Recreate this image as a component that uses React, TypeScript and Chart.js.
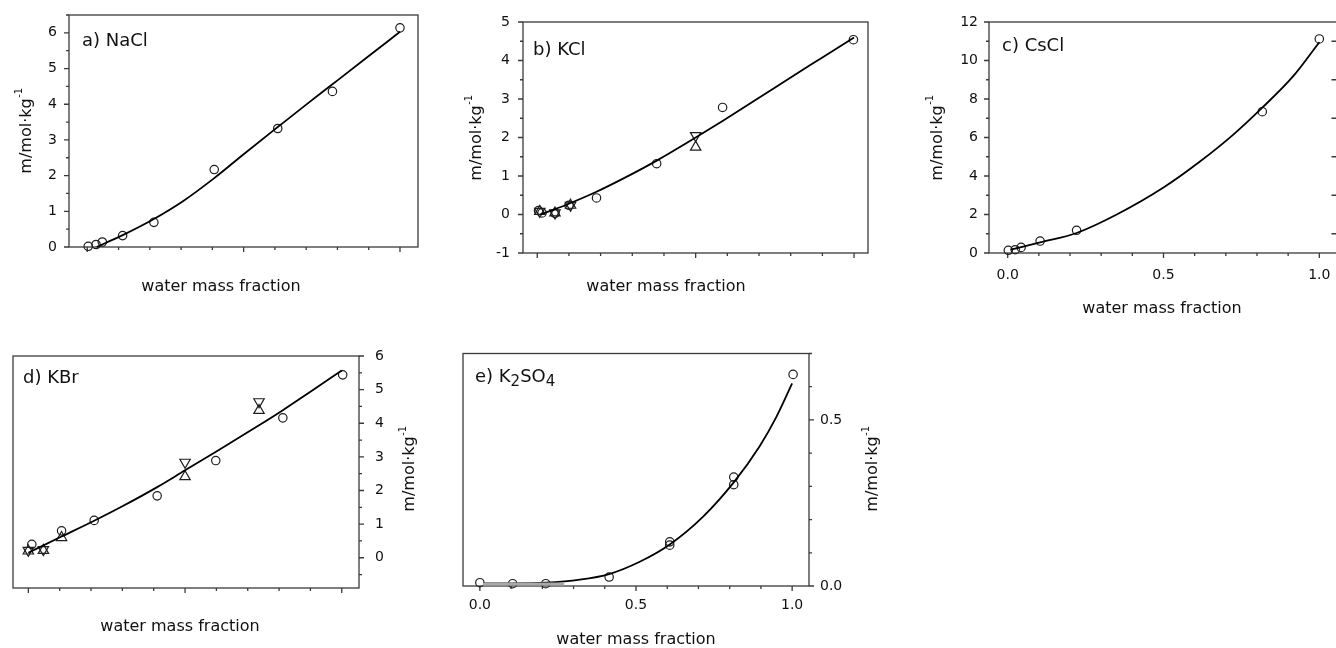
import { useEffect, useRef } from "react";
import { Chart, registerables } from "chart.js";

Chart.register(...registerables);

const W = 1336;
const H = 648;
const CW = 1420; // canvas width (wider than page so panel c can run off the edge)
const FONT = '"DejaVu Sans", "Liberation Sans", sans-serif';
const INK = "#111111";
const AXIS = "#3a3a3a";
const MARK = "#1e1e1e";

const X_TITLE = "water mass fraction";
const Y_MAIN = "m/mol·kg";
const Y_SUP = "-1";

// ---------- a) NaCl ----------
const naclX = [0.003, 0.028, 0.048, 0.113, 0.213, 0.406, 0.609, 0.784, 1.0];
const naclY = [0.02, 0.07, 0.14, 0.32, 0.69, 2.17, 3.32, 4.36, 6.14];
const naclFitX = [0.03, 0.06, 0.115, 0.21, 0.307, 0.406, 0.5, 0.609, 0.7, 0.787, 0.893, 1.0];
const naclFitY = [0.0, 0.12, 0.34, 0.77, 1.29, 1.93, 2.6, 3.36, 3.99, 4.58, 5.3, 6.03];

// ---------- b) KCl ----------
const kclX = [0.004, 0.015, 0.056, 0.1, 0.187, 0.377, 0.585, 0.998];
const kclY = [0.1, 0.04, 0.03, 0.24, 0.43, 1.32, 2.78, 4.54];
const kclTriX = [0.008, 0.056, 0.105, 0.5];
const kclTriY = [0.08, 0.04, 0.24, 1.75];
const kclInvX = [0.008, 0.056, 0.105, 0.5];
const kclInvY = [0.08, 0.04, 0.24, 2.05];
const kclFitX = [0.01, 0.05, 0.1, 0.187, 0.28, 0.377, 0.5, 0.585, 0.7, 0.8, 0.9, 1.0];
const kclFitY = [0.0, 0.12, 0.28, 0.59, 0.97, 1.4, 2.0, 2.43, 3.03, 3.56, 4.08, 4.6];

// ---------- c) CsCl ----------
const csclX = [0.002, 0.024, 0.043, 0.104, 0.221, 0.817, 1.0];
const csclY = [0.14, 0.17, 0.29, 0.62, 1.18, 7.34, 11.12];
const csclFitX = [0.01, 0.05, 0.104, 0.221, 0.35, 0.5, 0.617, 0.724, 0.817, 0.917, 1.0];
const csclFitY = [0.17, 0.33, 0.55, 1.04, 2.0, 3.4, 4.75, 6.15, 7.55, 9.2, 10.95];

// ---------- d) KBr ----------
const kbrX = [0.011, 0.106, 0.21, 0.411, 0.598, 0.812, 1.003];
const kbrY = [0.4, 0.8, 1.11, 1.84, 2.89, 4.16, 5.44];
const kbrTriX = [0.0, 0.048, 0.106, 0.5, 0.736];
const kbrTriY = [0.2, 0.22, 0.6, 2.41, 4.38];
const kbrInvX = [0.0, 0.048, 0.5, 0.736];
const kbrInvY = [0.22, 0.24, 2.84, 4.64];
const kbrFitX = [0.0, 0.106, 0.21, 0.3, 0.411, 0.5, 0.6, 0.736, 0.812, 0.9, 1.0];
const kbrFitY = [0.15, 0.63, 1.1, 1.53, 2.1, 2.6, 3.16, 3.94, 4.39, 4.94, 5.57];

// ---------- e) K2SO4 ----------
const k2so4X = [0.0, 0.105, 0.211, 0.414, 0.608, 0.608, 0.813, 0.813, 1.003];
const k2so4Y = [0.01, 0.007, 0.007, 0.027, 0.133, 0.123, 0.328, 0.305, 0.637];
const k2so4FitX = [0.01, 0.1, 0.211, 0.32, 0.414, 0.512, 0.608, 0.715, 0.813, 0.896, 0.95, 1.0];
const k2so4FitY = [0.008, 0.008, 0.01, 0.019, 0.036, 0.073, 0.125, 0.209, 0.312, 0.421, 0.51, 0.61];
const k2so4BandX = [0.01, 0.27];
const k2so4BandY = [0.006, 0.006];

type XY = [number[], number[]];
interface Part { t: string; size: number; dy: number }
interface Panel {
  key: string;
  plot: { l: number; r: number; t: number; b: number };
  yPos: "left" | "right";
  xMin: number; xMax: number; yMin: number; yMax: number;
  yStep: number; yMajor: number; yLabelStep: number; yDecimals: number;
  xLabels: boolean;
  yTick: number; xTick: number;
  circles: XY; tris?: XY; invs?: XY; fit: XY; band?: XY;
  label: Part[]; labelPos: [number, number];
  xTitle: [number, number]; yTitle: [number, number];
  mirror?: boolean;
}

const panels: Panel[] = [
  {
    key: "a", plot: { l: 69, r: 418, t: 15, b: 247 }, yPos: "left",
    xMin: -0.0585, xMax: 1.0576, yMin: 0, yMax: 6.5,
    yStep: 0.5, yMajor: 1, yLabelStep: 1, yDecimals: 0, xLabels: false,
    yTick: 12, xTick: 12,
    circles: [naclX, naclY], fit: [naclFitX, naclFitY],
    label: [{ t: "a) NaCl", size: 18, dy: 0 }], labelPos: [82, 41],
    xTitle: [221, 287], yTitle: [26.5, 131],
  },
  {
    key: "b", plot: { l: 523, r: 868, t: 22, b: 253 }, yPos: "left",
    xMin: -0.045, xMax: 1.044, yMin: -1, yMax: 5,
    yStep: 0.5, yMajor: 1, yLabelStep: 1, yDecimals: 0, xLabels: false,
    yTick: 13, xTick: 12,
    circles: [kclX, kclY], tris: [kclTriX, kclTriY], invs: [kclInvX, kclInvY], fit: [kclFitX, kclFitY],
    label: [{ t: "b) KCl", size: 18, dy: 0 }], labelPos: [533, 50],
    xTitle: [666, 287], yTitle: [476.7, 138],
  },
  {
    key: "c", plot: { l: 989, r: 1338, t: 22, b: 253 }, yPos: "left",
    xMin: -0.06, xMax: 1.06, yMin: 0, yMax: 12,
    yStep: 1, yMajor: 2, yLabelStep: 2, yDecimals: 0, xLabels: true,
    yTick: 11, xTick: 14,
    circles: [csclX, csclY], fit: [csclFitX, csclFitY],
    label: [{ t: "c) CsCl", size: 18, dy: 0 }], labelPos: [1002, 46],
    xTitle: [1162, 309], yTitle: [937.5, 138], mirror: true,
  },
  {
    key: "d", plot: { l: 13, r: 359, t: 356, b: 588 }, yPos: "right",
    xMin: -0.049, xMax: 1.055, yMin: -0.9, yMax: 6,
    yStep: 0.5, yMajor: 1, yLabelStep: 1, yDecimals: 0, xLabels: false,
    yTick: 16, xTick: 12,
    circles: [kbrX, kbrY], tris: [kbrTriX, kbrTriY], invs: [kbrInvX, kbrInvY], fit: [kbrFitX, kbrFitY],
    label: [{ t: "d) KBr", size: 18, dy: 0 }], labelPos: [23, 378],
    xTitle: [180, 627], yTitle: [410, 469],
  },
  {
    key: "e", plot: { l: 463, r: 809, t: 353.5, b: 586 }, yPos: "right",
    xMin: -0.054, xMax: 1.054, yMin: 0, yMax: 0.7,
    yStep: 0.1, yMajor: 0.5, yLabelStep: 0.5, yDecimals: 1, xLabels: true,
    yTick: 11, xTick: 11,
    circles: [k2so4X, k2so4Y], fit: [k2so4FitX, k2so4FitY], band: [k2so4BandX, k2so4BandY],
    label: [
      { t: "e) K", size: 18, dy: 0 },
      { t: "2", size: 15, dy: 5 },
      { t: "SO", size: 18, dy: 0 },
      { t: "4", size: 15, dy: 5 },
    ],
    labelPos: [475, 377],
    xTitle: [636, 640], yTitle: [873, 469],
  },
];

const isMult = (v: number, step: number) => Math.abs(v / step - Math.round(v / step)) < 1e-6;
const pts = (xy: XY) => xy[0].map((x, i) => ({ x, y: xy[1][i] }));

function makeConfig(p: Panel): any {
  const yW = 60;
  const xH = 40;
  const padding =
    p.yPos === "left"
      ? { left: p.plot.l - yW, right: CW - p.plot.r, top: p.plot.t, bottom: H - p.plot.b - xH }
      : { left: p.plot.l, right: CW - p.plot.r - yW, top: p.plot.t, bottom: H - p.plot.b - xH };

  const datasets: any[] = [];
  if (p.band) {
    datasets.push({ data: pts(p.band), showLine: true, borderColor: "#a8a8a8", borderWidth: 3, pointRadius: 0, clip: false });
  }
  datasets.push({
    data: pts(p.fit), showLine: true, borderColor: "#000", borderWidth: 1.8, pointRadius: 0,
    cubicInterpolationMode: "monotone", clip: false,
  });
  datasets.push({
    data: pts(p.circles), showLine: false, pointStyle: "circle", pointRadius: 4.2, borderColor: MARK,
    borderWidth: 1.2, backgroundColor: "rgba(0,0,0,0)", clip: false,
  });
  if (p.tris) {
    datasets.push({
      data: pts(p.tris), showLine: false, pointStyle: "triangle", pointRadius: 6, rotation: 0,
      borderColor: MARK, borderWidth: 1.2, backgroundColor: "rgba(0,0,0,0)", clip: false,
    });
  }
  if (p.invs) {
    datasets.push({
      data: pts(p.invs), showLine: false, pointStyle: "triangle", pointRadius: 6, rotation: 180,
      borderColor: MARK, borderWidth: 1.2, backgroundColor: "rgba(0,0,0,0)", clip: false,
    });
  }

  const tickFont = { family: FONT, size: 14 };

  const decor = {
    id: "decor_" + p.key,
    beforeDatasetsDraw(chart: any) {
      const ctx = chart.ctx;
      const { left, right, top, bottom } = chart.chartArea;
      const xs = chart.scales.x;
      const ys = chart.scales.y;
      ctx.save();
      ctx.strokeStyle = AXIS;
      ctx.lineWidth = 1.3;
      ctx.strokeRect(left, top, right - left, bottom - top);
      ctx.beginPath();
      for (const t of xs.ticks) {
        const px = xs.getPixelForValue(t.value);
        const len = isMult(t.value, 0.5) ? 5 : 3;
        ctx.moveTo(px, bottom);
        ctx.lineTo(px, bottom + len);
      }
      for (const t of ys.ticks) {
        const py = ys.getPixelForValue(t.value);
        const len = isMult(t.value, p.yMajor) ? 5 : 3;
        if (p.yPos === "left") {
          ctx.moveTo(left, py);
          ctx.lineTo(left - len, py);
        } else {
          ctx.moveTo(right, py);
          ctx.lineTo(right + len, py);
        }
        if (p.mirror && !isMult(t.value, p.yMajor)) {
          ctx.moveTo(right - 6.5, py);
          ctx.lineTo(right - 2, py);
        }
      }
      ctx.stroke();
      ctx.restore();
    },
    afterDraw(chart: any) {
      const ctx = chart.ctx;
      ctx.save();
      ctx.fillStyle = INK;
      ctx.textBaseline = "middle";
      ctx.textAlign = "left";
      let x = p.labelPos[0];
      for (const part of p.label) {
        ctx.font = `${part.size}px ${FONT}`;
        ctx.fillText(part.t, x, p.labelPos[1] + part.dy);
        x += ctx.measureText(part.t).width;
      }
      ctx.textAlign = "center";
      ctx.font = `16px ${FONT}`;
      ctx.fillText(X_TITLE, p.xTitle[0], p.xTitle[1]);

      ctx.translate(p.yTitle[0], p.yTitle[1]);
      ctx.rotate(-Math.PI / 2);
      ctx.textAlign = "left";
      ctx.font = `16px ${FONT}`;
      const w1 = ctx.measureText(Y_MAIN).width;
      ctx.font = `10px ${FONT}`;
      const w2 = ctx.measureText(Y_SUP).width;
      const s = -(w1 + w2) / 2;
      ctx.font = `16px ${FONT}`;
      ctx.fillText(Y_MAIN, s, 0);
      ctx.font = `10px ${FONT}`;
      ctx.fillText(Y_SUP, s + w1 + 0.5, -7);
      ctx.restore();
    },
  };

  return {
    type: "scatter",
    data: { datasets },
    options: {
      responsive: false,
      animation: false,
      devicePixelRatio: 1,
      events: [],
      layout: { padding },
      plugins: { legend: { display: false }, tooltip: { enabled: false }, title: { display: false } },
      scales: {
        x: {
          type: "linear", position: "bottom", min: p.xMin, max: p.xMax,
          afterFit: (s: any) => { s.height = xH; },
          ticks: {
            display: p.xLabels, stepSize: 0.1, includeBounds: false, autoSkip: false,
            maxRotation: 0, minRotation: 0, padding: 0, font: tickFont, color: INK,
            callback: (v: any) => (isMult(Number(v), 0.5) ? Number(v).toFixed(1) : ""),
          },
          grid: { display: false, drawTicks: true, tickLength: p.xTick },
          border: { display: false },
        },
        y: {
          type: "linear", position: p.yPos, min: p.yMin, max: p.yMax,
          afterFit: (s: any) => { s.width = yW; },
          ticks: {
            stepSize: p.yStep, includeBounds: false, autoSkip: false, padding: 0, font: tickFont, color: INK,
            callback: (v: any) => {
              const n = Number(v);
              if (!isMult(n, p.yLabelStep)) return "";
              return p.yDecimals > 0 ? n.toFixed(p.yDecimals) : String(Math.round(n) || 0);
            },
          },
          grid: { display: false, drawTicks: true, tickLength: p.yTick },
          border: { display: false },
        },
      },
    },
    plugins: [decor],
  };
}

function PanelChart({ p }: { p: Panel }) {
  const ref = useRef<HTMLCanvasElement>(null);
  useEffect(() => {
    if (!ref.current) return;
    const chart = new Chart(ref.current, makeConfig(p));
    return () => chart.destroy();
  }, [p]);
  return <canvas ref={ref} width={CW} height={H} style={{ position: "absolute", left: 0, top: 0 }} />;
}

export default function App() {
  return (
    <div style={{ position: "fixed", left: 0, top: 0, width: W, height: H, background: "#fff", overflow: "hidden" }}>
      {panels.map((p) => (
        <PanelChart key={p.key} p={p} />
      ))}
    </div>
  );
}
